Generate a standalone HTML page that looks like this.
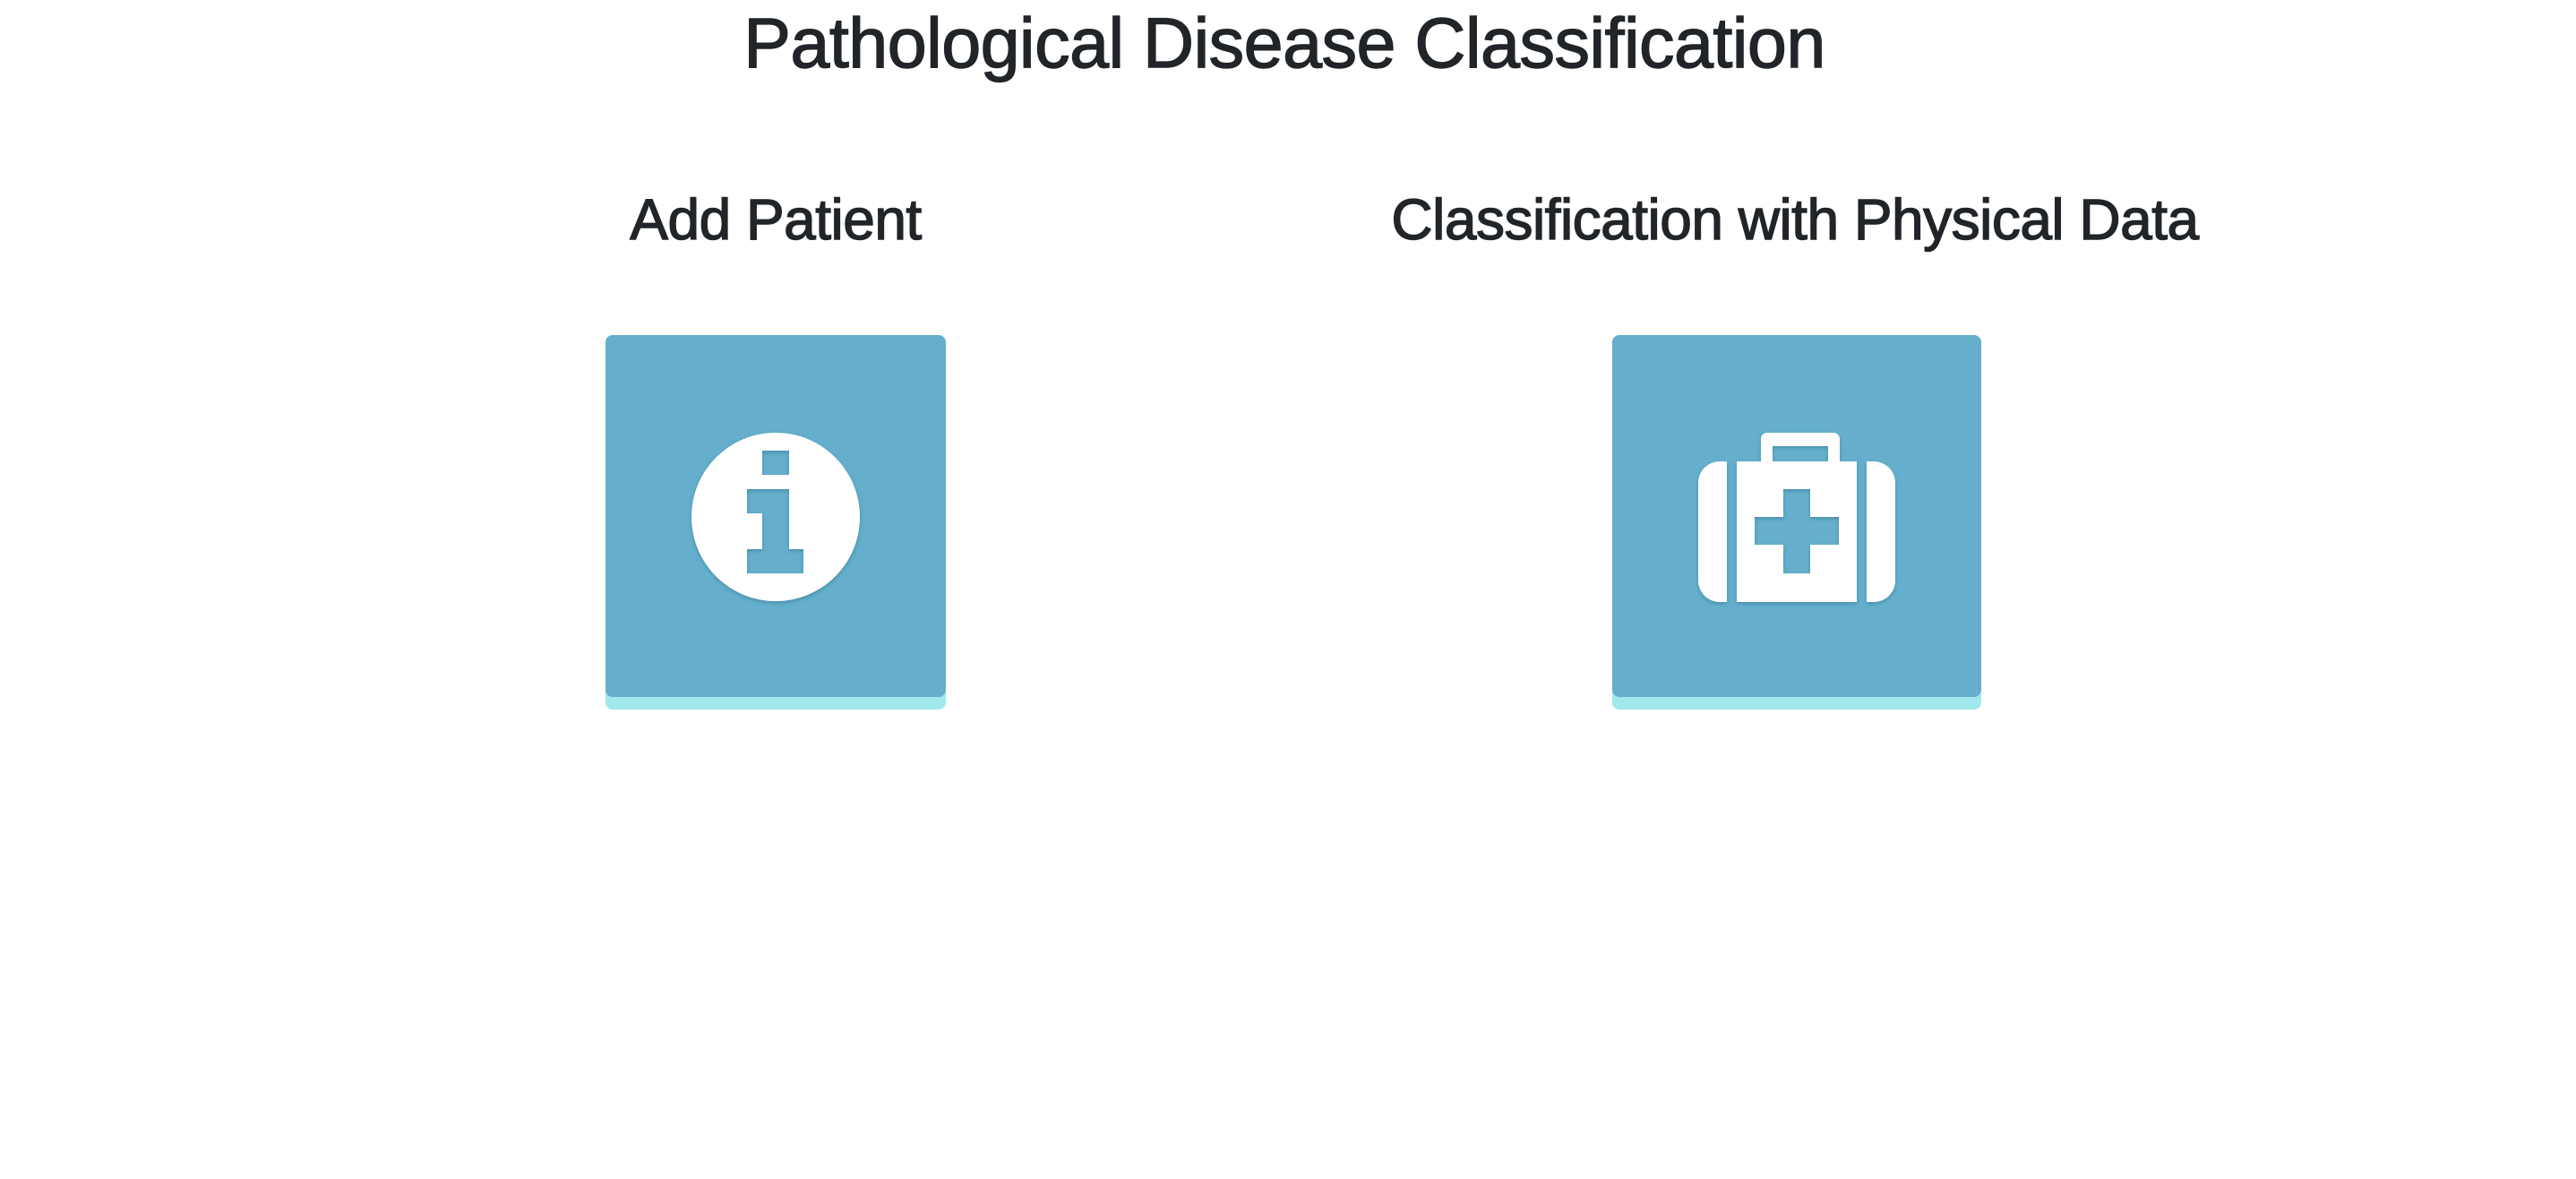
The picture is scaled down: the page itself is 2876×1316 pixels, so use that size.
<!DOCTYPE html>
<html><head><meta charset="utf-8"><style>
html,body{margin:0;padding:0;background:#fff;width:2876px;height:1316px;overflow:hidden;font-family:"Liberation Sans",sans-serif;color:#212529}
.t{position:absolute;white-space:nowrap;transform:translateX(-50%);margin:0;font-weight:400;letter-spacing:-0.5px;-webkit-text-stroke:1.4px #212529}
</style></head><body>
<h1 class="t" style="left:1434px;top:3px;font-size:79px;line-height:90px;">Pathological Disease Classification</h1>
<h2 class="t" style="left:866px;top:207px;font-size:64px;line-height:76px;">Add Patient</h2>
<h2 class="t" style="left:2004px;top:207px;font-size:64px;line-height:76px;">Classification with Physical Data</h2>
<svg width="2876" height="1316" style="position:absolute;left:0;top:0">
<defs><filter id="sh" x="-20%" y="-20%" width="140%" height="140%"><feDropShadow dx="0" dy="2" stdDeviation="2" flood-color="#2a6a85" flood-opacity="0.5"/></filter></defs>
<g>
<rect x="676" y="374" width="380" height="418" rx="8" fill="#a0e8ec"/>
<rect x="676" y="374" width="380" height="404" rx="8" fill="#65afcc"/>
<g filter="url(#sh)">
<path fill="#fff" fill-rule="evenodd" d="M772 577a94 94 0 1 0 188 0a94 94 0 1 0 -188 0Z M851 503h30v27h-30Z M834 546h47v67h16v27h-63v-27h17v-40h-17Z"/>
</g></g>
<g>
<rect x="1800" y="374" width="412" height="418" rx="8" fill="#a0e8ec"/>
<rect x="1800" y="374" width="412" height="404" rx="8" fill="#65afcc"/>
<g filter="url(#sh)" fill="#fff">
<path fill-rule="evenodd" d="M1966 483h81a7 7 0 0 1 7 7v25h-13v-17h-62v17h-13v-25a7 7 0 0 1 7-7Z"/>
<path d="M1928 515v157h-8a24 24 0 0 1-24-24v-109a24 24 0 0 1 24-24Z"/>
<path d="M2084 515v157h8a24 24 0 0 0 24-24v-109a24 24 0 0 0-24-24Z"/>
<path fill-rule="evenodd" d="M1939 515h134v157h-134Z M1991 546h30v31h32v31h-32v32h-30v-32h-32v-31h32Z"/>
</g></g>
</svg>
</body></html>
